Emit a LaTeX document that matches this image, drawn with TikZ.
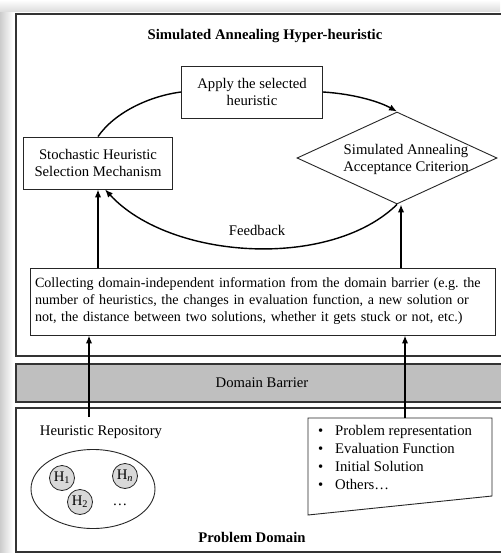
\documentclass[tikz,border=0pt]{standalone}
\usepackage{fontspec}
\setmainfont{Liberation Serif}
\usetikzlibrary{calc, arrows.meta, shapes.geometric}
\tikzset{
  font=\fontsize{14.7}{17}\selectfont,
  box/.style = {
    draw=black!85,
    line width=0.9pt,
    align=center,
    inner sep=0pt
  },
  frame/.style = {
    draw=black!80,
    line width=1.3pt
  },
  flow/.style = {
    line width=1.8pt,
    -{Latex[length=8pt,width=6.5pt]}
  },
  arc/.style = {
    line width=1.4pt
  },
  heur/.style = {
    circle,
    draw=black!85,
    line width=0.8pt,
    fill=black!15,
    minimum size=25pt,
    inner sep=0pt
  }
}

\begin{document}
\begin{tikzpicture}[x=1pt,y=-1pt]

      \useasboundingbox (0,0) rectangle (500,553);
      \shade[left color=black!20, right color=white] (0,0) rectangle (13,553);
      \shade[top color=white, bottom color=black!14] (0,0) rectangle (500,12);

      % frames
      \fill[white] (16,14) rectangle (520,356);
      \draw[frame] (16,14) rectangle (520,356);
      \draw[frame, fill=black!25] (16,364) rectangle (520,402);
      \draw[frame] (16,408) rectangle (520,552);

      \node[font=\fontsize{14.7}{17}\selectfont\bfseries] (title) at (265,36) {Simulated Annealing Hyper-heuristic};

      \node[box, minimum width=141pt, minimum height=52pt] (apply) at (252,92) {Apply the selected\\heuristic};
      \node[box, minimum width=149pt, minimum height=52pt] (select) at (98,163) {Stochastic Heuristic\\Selection Mechanism};
      \node[box, diamond, minimum width=200pt, minimum height=92pt] (accept) at (397,158) {};
      \node[align=center] (acceptlabel) at (406,159) {Simulated Annealing\\Acceptance Criterion};

      \draw[arc] (select.north) .. controls (115,112) and (150,96) .. (apply.west);
      \draw[arc, -{Latex[length=8pt,width=6.5pt]}] (apply.east) .. controls (355,94) and (380,102) .. (accept.north);
      \draw[arc, -{Latex[length=8pt,width=6.5pt]}] (accept.south) .. controls (330,270) and (170,260) .. ([xshift=7pt]select.south);
      \node (feedback) at (257,230) {Feedback};

      \node[box, align=left, text width=455pt, inner xsep=5pt, minimum height=67pt,
            font=\fontsize{14.1}{17}\selectfont] (collect) at (262.5,301.5)
        {Collecting domain-independent information from the domain barrier (e.g.\ the\\
         number of heuristics, the changes in evaluation function, a new solution or\\
         not, the distance between two solutions, whether it gets stuck or not, etc.)};

      \draw[flow] (select.south |- collect.north) -- (select.south);
      \draw[flow] ([xshift=4pt]accept.south |- collect.north) -- ([xshift=4pt]accept.south);

      \node (barrier) at (262,383) {Domain Barrier};

      % problem domain
      \node (repo) at (101,432) {Heuristic Repository};
      \coordinate (repotop) at (89,417);
      \node[ellipse, draw=black!85, line width=0.9pt, minimum width=124pt, minimum height=79pt] (pool) at (93,489) {};
      \node[heur] (h1) at (62,478) {H\textsubscript{1}};
      \node[heur] (hn) at (125,476) {H\textsubscript{\textit{n}}};
      \node[heur] (h2) at (80,502) {H\textsubscript{2}};
      \node (more) at (120,505) {\dots};

      \coordinate (lnw) at (308,418);
      \coordinate (lne) at (492,418);
      \coordinate (lse) at (492,496);
      \coordinate (lsw) at (308,515);
      \draw[box] (lnw) -- (lne) -- (lse) -- (lsw) -- cycle;
      \coordinate (lsttop) at (405,418);
      \node[anchor=north west, align=left, inner sep=0pt, font=\fontsize{14.7}{18}\selectfont] (props) at (318,425)
        {\makebox[17pt][l]{\textbullet}Problem representation\\
         \makebox[17pt][l]{\textbullet}Evaluation Function\\
         \makebox[17pt][l]{\textbullet}Initial Solution\\
         \makebox[17pt][l]{\textbullet}Others\dots};

      \draw[flow] (repotop) -- (repotop |- collect.south);
      \draw[flow] (lsttop) -- (lsttop |- collect.south);

      \node[font=\fontsize{14.7}{17}\selectfont\bfseries] (domain) at (252,537) {Problem Domain};
    \end{tikzpicture}
\end{document}
